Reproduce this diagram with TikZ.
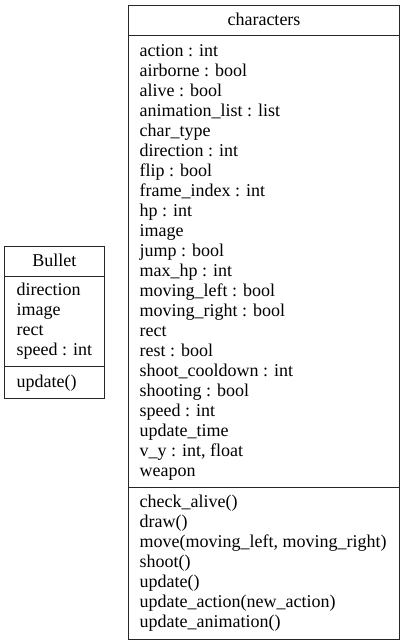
\documentclass[tikz,border=0pt]{standalone}
\usepackage{fontspec}
\setmainfont{Liberation Serif}
\begin{document}
\begin{tikzpicture}[x=1pt,y=-1pt,
  box/.style={draw=black!85,line width=1pt,rectangle,inner sep=0pt,anchor=north west},
  sep/.style={draw=black!85,line width=1pt},
  txt/.style={anchor=base west,inner sep=0pt,font=\fontsize{18}{20}\selectfont},
  ttl/.style={anchor=base,inner sep=0pt,font=\fontsize{18}{20}\selectfont}]
\useasboundingbox (0,0) rectangle (405,644);
% characters class
\node[box,minimum width=271pt,minimum height=634pt] (chars) at (128.3,5) {};
\coordinate (c1) at (0,35.5);
\coordinate (c2) at (0,487);
\draw[sep] (chars.west |- c1) -- (chars.east |- c1);
\draw[sep] (chars.west |- c2) -- (chars.east |- c2);
\node[ttl] (charsT) at (264,25.7) {characters};
\foreach \t [count=\i from 0] in {action : int,airborne : bool,alive : bool,animation\_list : list,char\_type,direction : int,flip : bool,frame\_index : int,hp : int,image,jump : bool,max\_hp : int,moving\_left : bool,moving\_right : bool,rect,rest : bool,shoot\_cooldown : int,shooting : bool,speed : int,update\_time,{v\_y : int, float},weapon}
  \node[txt] (ca\i) at (139.5,56.7+20*\i) {\t};
\foreach \t [count=\i from 0] in {check\_alive(),draw(),{move(moving\_left, moving\_right)},shoot(),update(),update\_action(new\_action),update\_animation()}
  \node[txt] (cm\i) at (139.5,507+20*\i) {\t};
% Bullet class
\node[box,minimum width=100pt,minimum height=152pt] (bullet) at (4.3,245.7) {};
\coordinate (b1) at (0,276);
\coordinate (b2) at (0,366.7);
\draw[sep] (bullet.west |- b1) -- (bullet.east |- b1);
\draw[sep] (bullet.west |- b2) -- (bullet.east |- b2);
\node[ttl] (bulletT) at (54.3,266) {Bullet};
\foreach \t [count=\i from 0] in {direction,image,rect,speed : int}
  \node[txt] (ba\i) at (16.5,295.5+20*\i) {\t};
\node[txt] (bm0) at (16.5,387) {update()};
\end{tikzpicture}
\end{document}
